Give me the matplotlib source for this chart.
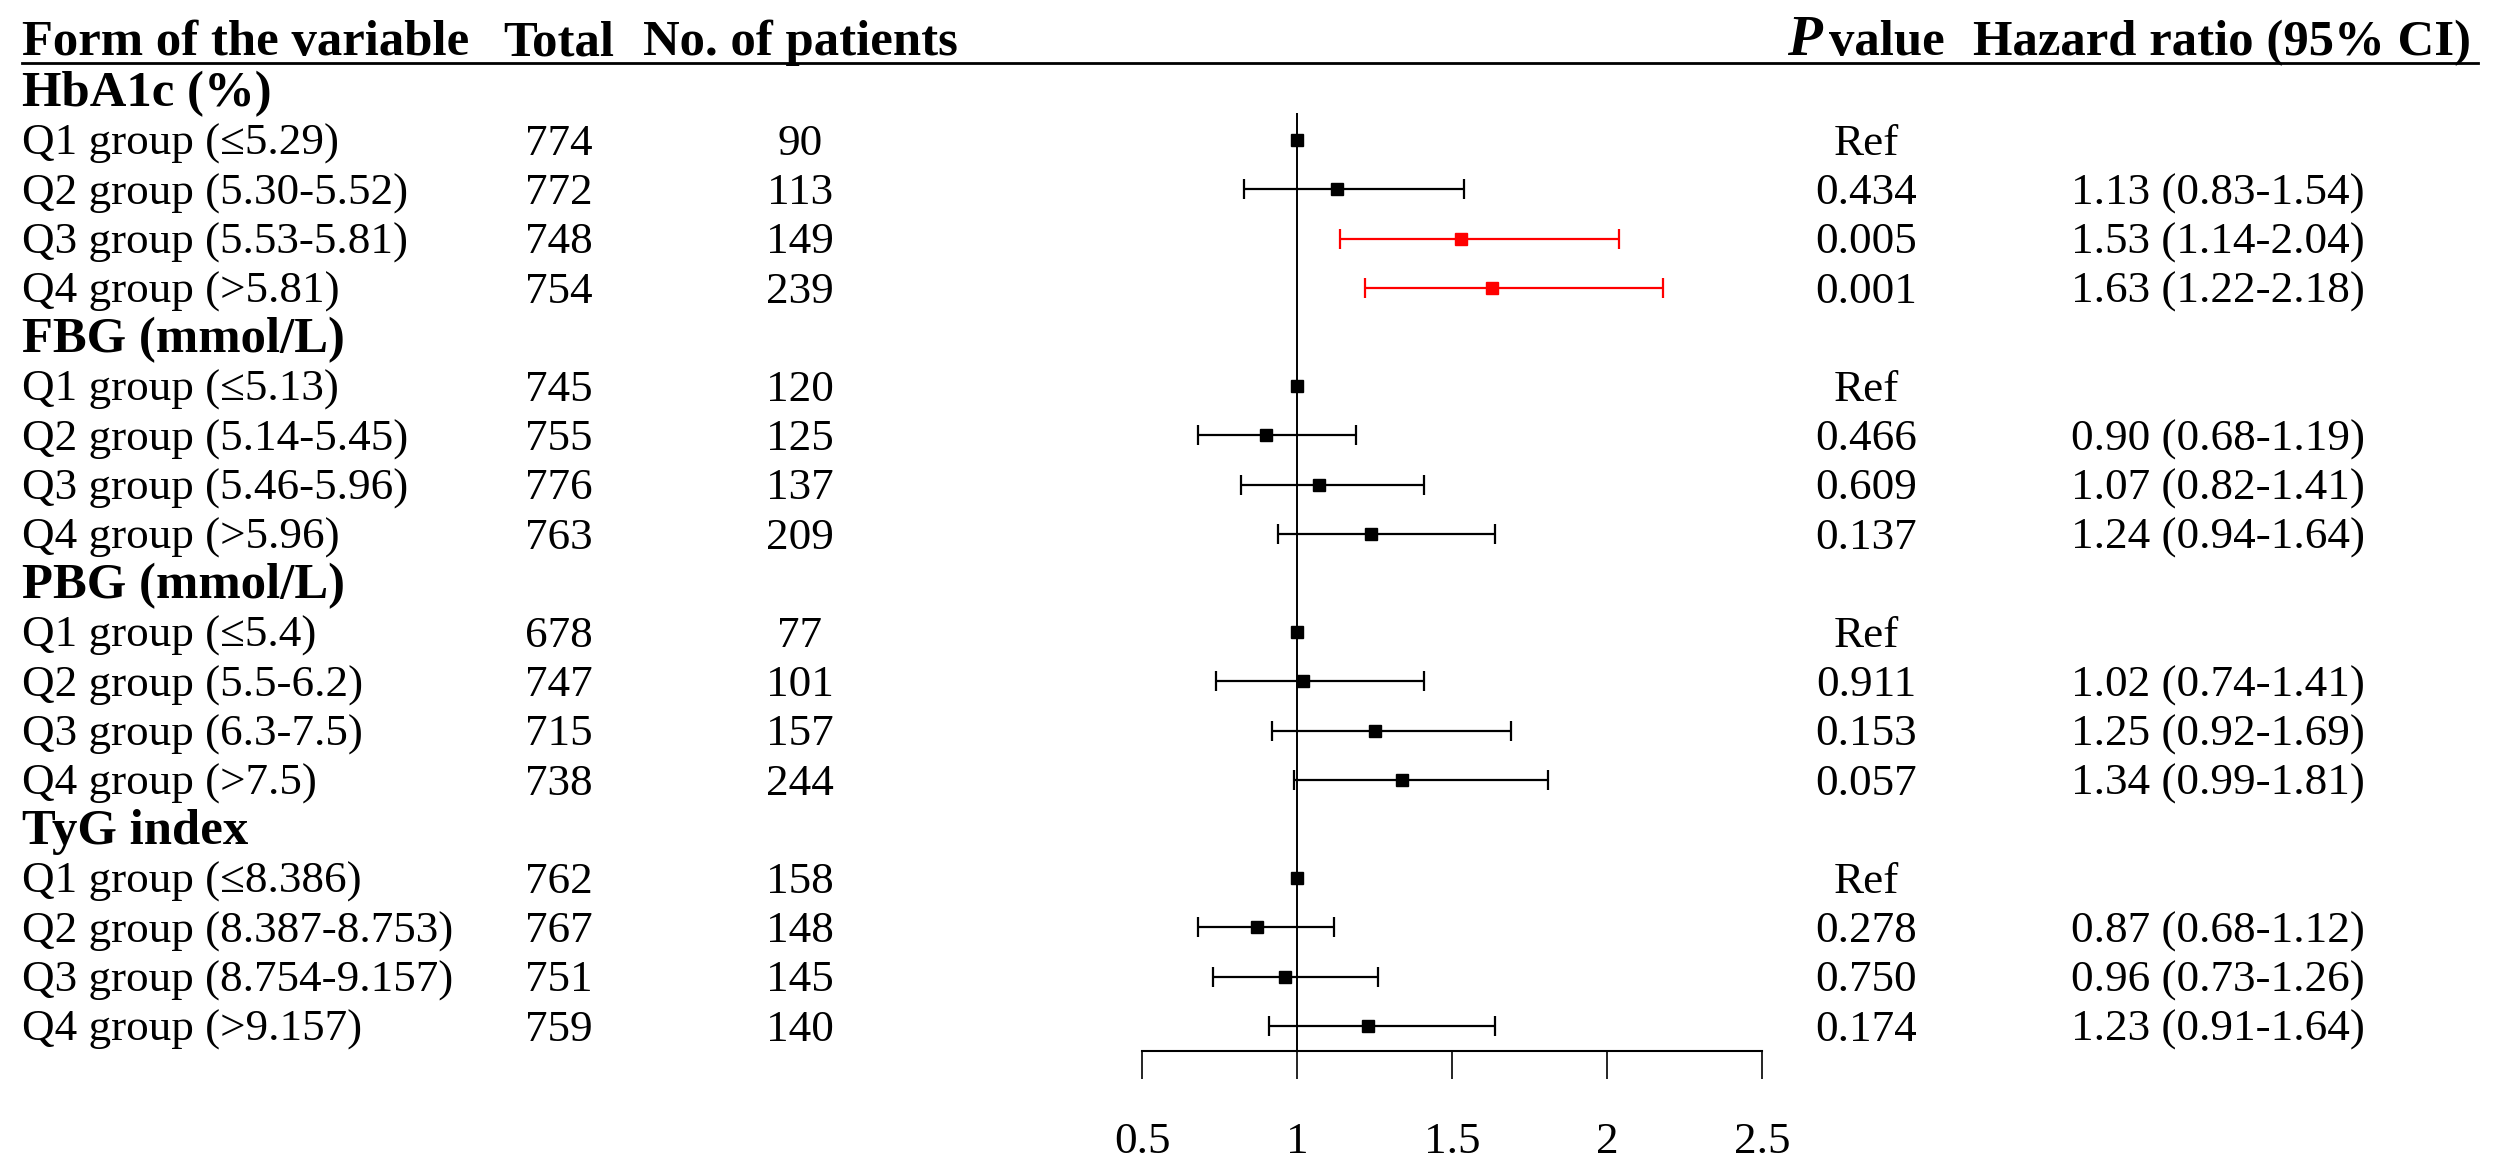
import matplotlib.pyplot as plt
import matplotlib.transforms as mtransforms
from matplotlib.lines import Line2D

plt.rcParams['font.family'] = ['Liberation Serif', 'DejaVu Serif']

groups = ['HbA1c (%)', 'FBG (mmol/L)', 'PBG (mmol/L)', 'TyG index']
labels = [
    ['Q1 group (≤5.29)', 'Q2 group (5.30-5.52)', 'Q3 group (5.53-5.81)', 'Q4 group (>5.81)'],
    ['Q1 group (≤5.13)', 'Q2 group (5.14-5.45)', 'Q3 group (5.46-5.96)', 'Q4 group (>5.96)'],
    ['Q1 group (≤5.4)', 'Q2 group (5.5-6.2)', 'Q3 group (6.3-7.5)', 'Q4 group (>7.5)'],
    ['Q1 group (≤8.386)', 'Q2 group (8.387-8.753)', 'Q3 group (8.754-9.157)', 'Q4 group (>9.157)'],
]
total = [[774, 772, 748, 754], [745, 755, 776, 763], [678, 747, 715, 738], [762, 767, 751, 759]]
patients = [[90, 113, 149, 239], [120, 125, 137, 209], [77, 101, 157, 244], [158, 148, 145, 140]]
hr = [[1.00, 1.13, 1.53, 1.63], [1.00, 0.90, 1.07, 1.24], [1.00, 1.02, 1.25, 1.34], [1.00, 0.87, 0.96, 1.23]]
lo = [[1.00, 0.83, 1.14, 1.22], [1.00, 0.68, 0.82, 0.94], [1.00, 0.74, 0.92, 0.99], [1.00, 0.68, 0.73, 0.91]]
hi = [[1.00, 1.54, 2.04, 2.18], [1.00, 1.19, 1.41, 1.64], [1.00, 1.41, 1.69, 1.81], [1.00, 1.12, 1.26, 1.64]]
pvals = [['Ref', '0.434', '0.005', '0.001'],
         ['Ref', '0.466', '0.609', '0.137'],
         ['Ref', '0.911', '0.153', '0.057'],
         ['Ref', '0.278', '0.750', '0.174']]
ticks = [0.5, 1, 1.5, 2, 2.5]

W, H = 2500, 1173
fs = 32.5      # body text
fsb = 36.5     # bold headings

fig = plt.figure(figsize=(W / 100, H / 100), dpi=100)
# forest panel: x 0.5..2.5 spans px 1142..1762, rows 49.2 px apart
ax = fig.add_axes([1142 / W, 1 - 1051 / H, 620 / W, (1051 - 113) / H])
ax.set_xlim(0.5, 2.5)
ax.set_ylim((1051 - 91) / 49.2, (113 - 91) / 49.2)
for s in ['top', 'left', 'right']:
    ax.spines[s].set_visible(False)
ax.spines['bottom'].set_linewidth(1.5)
ax.set_yticks([])
ax.set_xticks(ticks, labels=[str(t) for t in ticks])
ax.tick_params(axis='x', direction='out', length=20, width=1.2, pad=31, labelsize=fs)
ax.axvline(1, color='black', lw=1.4)

trans = mtransforms.blended_transform_factory(fig.transFigure, ax.transData)

def fx(px):
    return px / W

# header
hy = (55 - 91) / 49.2
hkw = dict(transform=trans, fontweight='bold', va='baseline')
fig.text(fx(22), hy, 'Form of the variable', ha='left', fontsize=fsb, **hkw)
fig.text(fx(559), hy, 'Total', ha='center', fontsize=fsb, **hkw)
fig.text(fx(800), hy, 'No. of patients', ha='center', fontsize=fsb, **hkw)
fig.text(fx(1787), hy, 'P', ha='left', fontstyle='italic', fontsize=41, **hkw)
fig.text(fx(1945), hy, 'value', ha='right', fontsize=fsb, **hkw)
fig.text(fx(1973), hy, 'Hazard ratio (95% CI)', ha='left', fontsize=fsb, **hkw)
fig.add_artist(Line2D([fx(22), fx(2478)], [(63 - 91) / 49.2] * 2, transform=trans,
                      color='black', lw=2))

off = 0.3  # baseline offset from row centre
row = 0
for g in range(len(groups)):
    fig.text(fx(22), row + off, groups[g], transform=trans, fontsize=fsb,
             fontweight='bold', ha='left', va='baseline')
    row += 1
    for k in range(4):
        kw = dict(transform=trans, fontsize=fs, va='baseline')
        fig.text(fx(22), row + off, labels[g][k], ha='left', **kw)
        fig.text(fx(559), row + off, str(total[g][k]), ha='center', **kw)
        fig.text(fx(800), row + off, str(patients[g][k]), ha='center', **kw)
        fig.text(fx(1866), row + off, pvals[g][k], ha='center', **kw)
        if pvals[g][k] == 'Ref':
            ax.plot(hr[g][k], row, marker='s', color='black', ms=8)
        else:
            fig.text(fx(2218), row + off,
                     '%.2f (%.2f-%.2f)' % (hr[g][k], lo[g][k], hi[g][k]), ha='center', **kw)
            c = 'red' if float(pvals[g][k]) < 0.05 else 'black'
            ax.errorbar(hr[g][k], row, xerr=[[hr[g][k] - lo[g][k]], [hi[g][k] - hr[g][k]]],
                        fmt='s', color=c, ms=8, elinewidth=1.6, capsize=7.5, capthick=1.6)
        row += 1

fig.savefig('out.png', dpi=100)
